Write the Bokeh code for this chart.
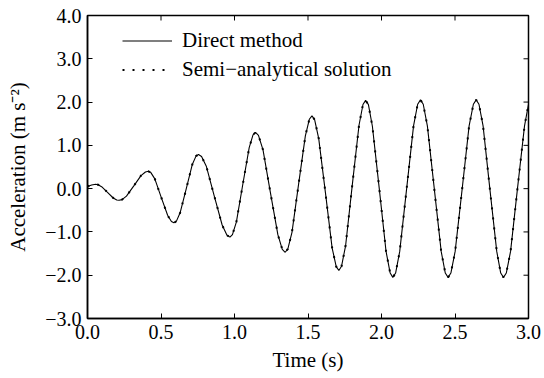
from bokeh.plotting import figure
from bokeh.models import (Range1d, LinearAxis, FixedTicker, CustomJSTickFormatter,
                          Legend, LegendItem)
from bokeh.embed import file_html
from bokeh.resources import INLINE

# ---- data ----
time_s = [0.000, 0.028, 0.056,
          0.072, 0.096, 0.136, 0.175, 0.199, 0.215,
          0.235, 0.265, 0.315, 0.364, 0.394, 0.414,
          0.431, 0.458, 0.501, 0.545, 0.571, 0.588,
          0.605, 0.630, 0.672, 0.713, 0.738, 0.755,
          0.776, 0.809, 0.862, 0.916, 0.948, 0.969,
          0.986, 1.013, 1.056, 1.100, 1.126, 1.143,
          1.163, 1.194, 1.244, 1.295, 1.325, 1.345,
          1.363, 1.391, 1.436, 1.482, 1.509, 1.527,
          1.545, 1.573, 1.619, 1.664, 1.692, 1.710,
          1.728, 1.756, 1.801, 1.847, 1.874, 1.892,
          1.911, 1.938, 1.985, 2.031, 2.059, 2.077,
          2.096, 2.124, 2.171, 2.218, 2.246, 2.265,
          2.284, 2.312, 2.359, 2.406, 2.434, 2.453,
          2.472, 2.501, 2.549, 2.596, 2.625, 2.644,
          2.663, 2.691, 2.737, 2.784, 2.811, 2.830,
          2.849, 2.878, 2.925, 2.973, 3.000]

direct_accel = [0.05, 0.085, 0.10,
                0.091, 0.046, -0.085, -0.216, -0.261, -0.27,
                -0.254, -0.172, 0.065, 0.302, 0.384, 0.40,
                0.371, 0.226, -0.195, -0.616, -0.761, -0.79,
                -0.751, -0.559, 0.000, 0.559, 0.751, 0.79,
                0.743, 0.510, -0.165, -0.840, -1.073, -1.12,
                -1.061, -0.766, 0.090, 0.946, 1.241, 1.30,
                1.232, 0.894, -0.085, -1.064, -1.402, -1.47,
                -1.393, -1.009, 0.105, 1.219, 1.603, 1.68,
                1.593, 1.157, -0.105, -1.367, -1.803, -1.89,
                -1.794, -1.315, 0.075, 1.465, 1.944, 2.04,
                1.940, 1.441, -0.005, -1.451, -1.950, -2.05,
                -1.950, -1.450, 0.000, 1.450, 1.950, 2.05,
                1.950, 1.450, 0.000, -1.450, -1.950, -2.05,
                -1.950, -1.450, 0.000, 1.450, 1.950, 2.05,
                1.950, 1.450, 0.000, -1.450, -1.950, -2.05,
                -1.950, -1.450, 0.000, 1.450, 1.950]

semi_accel = [0.05, 0.085, 0.10,
              0.091, 0.046, -0.085, -0.216, -0.261, -0.27,
              -0.254, -0.172, 0.065, 0.302, 0.384, 0.40,
              0.371, 0.226, -0.195, -0.616, -0.761, -0.79,
              -0.751, -0.559, 0.000, 0.559, 0.751, 0.79,
              0.743, 0.510, -0.165, -0.840, -1.073, -1.12,
              -1.061, -0.766, 0.090, 0.946, 1.241, 1.30,
              1.232, 0.894, -0.085, -1.064, -1.402, -1.47,
              -1.393, -1.009, 0.105, 1.219, 1.603, 1.68,
              1.593, 1.157, -0.105, -1.367, -1.803, -1.89,
              -1.794, -1.315, 0.075, 1.465, 1.944, 2.04,
              1.940, 1.441, -0.005, -1.451, -1.950, -2.05,
              -1.950, -1.450, 0.000, 1.450, 1.950, 2.05,
              1.950, 1.450, 0.000, -1.450, -1.950, -2.05,
              -1.950, -1.450, 0.000, 1.450, 1.950, 2.05,
              1.950, 1.450, 0.000, -1.450, -1.950, -2.05,
              -1.950, -1.450, 0.000, 1.450, 1.950]

x_tick_values = [0.0, 0.5, 1.0, 1.5, 2.0, 2.5, 3.0]
y_tick_values = [-3.0, -2.0, -1.0, 0.0, 1.0, 2.0, 3.0, 4.0]
series_labels = ["Direct method", "Semi\u2212analytical solution"]
x_label = "Time (s)"
y_label = "Acceleration (m s\u207b\u00b2)"

FONT = "'Liberation Serif', 'Times New Roman', serif"
TICK_FS = "20px"
LAB_FS = "21px"

p = figure(width=544, height=378, output_backend="svg", toolbar_location=None,
           x_range=Range1d(0, 3), y_range=Range1d(-3, 4),
           min_border_left=87, min_border_right=16, min_border_top=15,
           min_border_bottom=60, x_axis_location=None, y_axis_location=None)
p.background_fill_color = "white"
p.border_fill_color = "white"
p.grid.visible = False
p.outline_line_color = "black"
p.outline_line_width = 1.5

fmt = CustomJSTickFormatter(code="return (tick < 0 ? '\u2212' : '') + Math.abs(tick).toFixed(1);")


def style_axis(ax):
    ax.axis_line_color = "black"
    ax.axis_line_width = 1.5
    ax.major_tick_in = 5
    ax.major_tick_out = 0
    ax.major_tick_line_color = "black"
    ax.major_tick_line_width = 1
    ax.minor_tick_line_color = None
    ax.major_label_text_font = FONT
    ax.major_label_text_color = "black"
    ax.major_label_text_font_size = TICK_FS
    ax.major_label_standoff = 6
    ax.axis_label_text_font = FONT
    ax.axis_label_text_font_style = "normal"
    ax.axis_label_text_color = "black"
    ax.axis_label_text_font_size = LAB_FS


xb = LinearAxis(ticker=FixedTicker(ticks=x_tick_values), formatter=fmt, axis_label=x_label)
style_axis(xb)
xb.axis_label_standoff = 6
p.add_layout(xb, "below")

yl = LinearAxis(ticker=FixedTicker(ticks=y_tick_values), formatter=fmt, axis_label=y_label)
style_axis(yl)
yl.axis_label_standoff = 12
p.add_layout(yl, "left")

# frame-edge tick marks on top and right (no labels)
p.scatter(x_tick_values, [4.0] * len(x_tick_values), marker="dash", size=10,
          angle=1.5708, line_color="black", line_width=1)
p.scatter([3.0] * len(y_tick_values), y_tick_values, marker="dash", size=10,
          line_color="black", line_width=1)

r1 = p.line(time_s, direct_accel, line_color="black", line_width=1.1)
r2 = p.line(time_s, semi_accel, line_color="black", line_width=2, line_dash="2 8")

legend = Legend(items=[LegendItem(label=series_labels[0], renderers=[r1]),
                       LegendItem(label=series_labels[1], renderers=[r2])],
                location=(35, 234), margin=0, padding=0, spacing=0,
                glyph_width=50, glyph_height=29, label_height=29,
                label_standoff=10, label_text_font=FONT, label_text_font_size=LAB_FS,
                label_text_color="black", background_fill_alpha=0,
                border_line_alpha=0)
p.add_layout(legend, "center")

open("out.html", "w").write(file_html(p, INLINE))
